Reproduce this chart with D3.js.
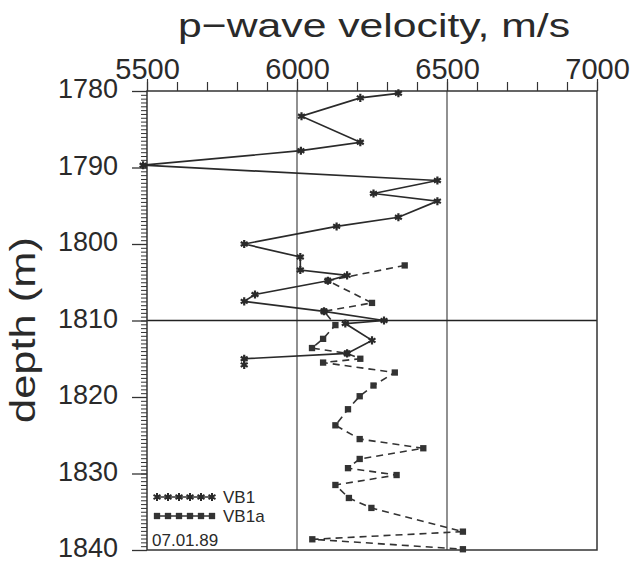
<!DOCTYPE html>
<html>
<head>
<meta charset="utf-8">
<script src="https://cdn.jsdelivr.net/npm/d3@7"></script>
<style>
body{margin:0;background:#fff;}
text{font-family:"Liberation Sans",Arial,sans-serif;fill:#2a2a2a;}
</style>
</head>
<body>
<div id="chart-area"></div>
<script>
// VB1 (solid, stars)
var vb1Velocity=[6338,6211,6015,6211,6013,5487,6468,6255,6468,6338,6132,5824,6011,6011,6167,6103,5860,5824,6090,6290,6161,6250,6167,5824,5824];
var vb1Depth=[1780.3,1780.9,1783.3,1786.7,1787.8,1789.7,1791.7,1793.4,1794.4,1796.5,1797.7,1800.0,1801.7,1803.4,1804.1,1804.8,1806.6,1807.5,1808.8,1810.0,1810.4,1812.6,1814.3,1815.0,1815.8];
// VB1a (dashed, squares)
var vb1aVelocity=[6359,6103,6250,6090,6128,6087,6050,6167,6211,6087,6326,6255,6209,6170,6128,6209,6421,6209,6170,6332,6128,6173,6248,6553,6051,6553];
var vb1aDepth=[1802.8,1804.8,1807.7,1808.8,1810.6,1812.4,1813.6,1814.3,1815.0,1815.5,1816.8,1818.5,1819.9,1821.6,1823.7,1825.5,1826.7,1828.1,1829.3,1830.2,1831.5,1833.2,1834.5,1837.6,1838.6,1839.9];

var xTicks=[5500,6000,6500,7000];
var yTicks=[1780,1790,1800,1810,1820,1830,1840];
var gridX=[6000,6500];
var gridY=[1810];
var seriesNames=["VB1","VB1a"];
var dateLabel="07.01.89";

var margin={left:147,right:33,top:91,bottom:13};
var width=450, height=459;

var svg=d3.select("#chart-area").append("svg")
    .attr("width",630)
    .attr("height",563);
var g=svg.append("g")
    .attr("transform","translate("+margin.left+","+margin.top+")");

var x=d3.scaleLinear().domain([5500,7000]).range([0,width]);
var y=d3.scaleLinear().domain([1780,1840]).range([0,height]);

// grid lines
g.selectAll(".gx").data(gridX).enter().append("line")
    .attr("x1",d=>x(d)).attr("x2",d=>x(d))
    .attr("y1",0).attr("y2",height)
    .attr("stroke","#555").attr("stroke-width",1.3);
g.selectAll(".gy").data(gridY).enter().append("line")
    .attr("x1",0).attr("x2",width)
    .attr("y1",d=>y(d)).attr("y2",d=>y(d))
    .attr("stroke","#222").attr("stroke-width",1.6);

// frame
g.append("rect")
    .attr("width",width).attr("height",height)
    .attr("fill","none").attr("stroke","#333").attr("stroke-width",1.5);

// top axis: minor every 100, labels every 500
g.append("g")
    .call(d3.axisTop(x).tickValues(d3.range(5500,7001,100)).tickSize(9).tickFormat(""))
    .call(a=>a.select(".domain").remove())
    .selectAll("line").attr("stroke","#333").attr("stroke-width",1.2);
var xAxisGroup=g.append("g")
    .call(d3.axisTop(x).tickValues(xTicks).tickSize(12).tickPadding(0).tickFormat(d3.format("d")));
xAxisGroup.select(".domain").remove();
xAxisGroup.selectAll("line").attr("stroke","#333").attr("stroke-width",1.2);
xAxisGroup.selectAll("text")
    .attr("font-size","29px").attr("font-family","Liberation Sans")
    .attr("fill","#2a2a2a").attr("y",-12);

// left axis: minor every 0.5 m, labels every 10 m
g.append("g")
    .call(d3.axisLeft(y).tickValues(d3.range(1780,1840.01,0.5)).tickSize(6).tickFormat(""))
    .call(a=>a.select(".domain").remove())
    .selectAll("line").attr("stroke","#333").attr("stroke-width",1);
var yAxisGroup=g.append("g")
    .call(d3.axisLeft(y).tickValues(yTicks).tickSize(15).tickPadding(14).tickFormat(d3.format("d")));
yAxisGroup.select(".domain").remove();
yAxisGroup.selectAll("line").attr("stroke","#333").attr("stroke-width",1.3);
yAxisGroup.selectAll("text")
    .attr("font-size","27px").attr("font-family","Liberation Sans")
    .attr("dy","0.25em")
    .attr("fill","#2a2a2a");

// axis titles
svg.append("text")
    .attr("x",374).attr("y",37)
    .attr("text-anchor","middle")
    .attr("font-size","34px")
    .attr("textLength",392).attr("lengthAdjust","spacingAndGlyphs")
    .text("p\u2212wave velocity, m/s");
svg.append("text")
    .attr("transform","translate(35,330) rotate(-90)")
    .attr("text-anchor","middle")
    .attr("font-size","35px")
    .attr("textLength",186).attr("lengthAdjust","spacingAndGlyphs")
    .text("depth (m)");

// series
var vb1=vb1Depth.map((d,i)=>({v:vb1Velocity[i],d:d}));
var vb1a=vb1aDepth.map((d,i)=>({v:vb1aVelocity[i],d:d}));
var line=d3.line().x(p=>x(p.v)).y(p=>y(p.d));

g.append("path").datum(vb1a)
    .attr("d",line).attr("fill","none")
    .attr("stroke","#333").attr("stroke-width",1.6)
    .attr("stroke-dasharray","7,5");
g.append("path").datum(vb1)
    .attr("d",line).attr("fill","none")
    .attr("stroke","#2a2a2a").attr("stroke-width",1.7);

var star=d3.symbol().type(d3.symbolAsterisk).size(45);
var square=d3.symbol().type(d3.symbolSquare).size(40);

g.selectAll(".sq").data(vb1a).enter().append("path")
    .attr("transform",p=>"translate("+x(p.v)+","+y(p.d)+")")
    .attr("d",square).attr("fill","#333");
g.selectAll(".st").data(vb1).enter().append("path")
    .attr("transform",p=>"translate("+x(p.v)+","+y(p.d)+")")
    .attr("d",star).attr("fill","none")
    .attr("stroke","#2a2a2a").attr("stroke-width",2.2);

// legend
var legend=svg.append("g");
var legendX=d3.range(157,213,11);
[0,1].forEach(function(k){
    var ly=497+k*19;
    legend.append("line")
        .attr("x1",157).attr("x2",212).attr("y1",ly).attr("y2",ly)
        .attr("stroke","#333").attr("stroke-width",1.5);
    legend.selectAll(".lm"+k).data(legendX).enter().append("path")
        .attr("transform",lx=>"translate("+lx+","+ly+")")
        .attr("d",k==0?star:square)
        .attr("fill",k==0?"none":"#333")
        .attr("stroke","#2a2a2a").attr("stroke-width",k==0?2:0);
    legend.append("text")
        .attr("x",223).attr("y",ly+6)
        .attr("font-size","17px")
        .text(seriesNames[k]);
});
legend.append("text")
    .attr("x",152).attr("y",546)
    .attr("font-size","17px")
    .text(dateLabel);
</script>
</body>
</html>
